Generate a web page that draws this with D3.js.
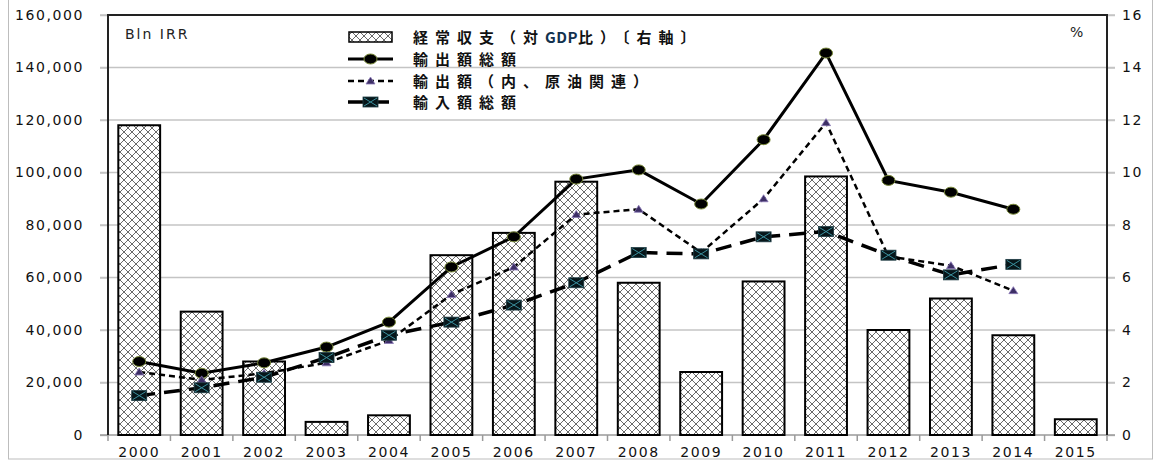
<!DOCTYPE html>
<html lang="ja">

<head>
  <meta charset="UTF-8">
  <title>Chart</title>
  <script src="https://cdn.jsdelivr.net/npm/d3@7.6.1/dist/d3.min.js"></script>
  <style>
    body { margin: 0; background: #fff; }
    svg { display: block; }
  </style>
</head>

<body>
  <div id="chart"></div>
  <script>
    const width = 1155
    const height = 461

    // data
    const years = ['2000', '2001', '2002', '2003', '2004', '2005', '2006', '2007', '2008', '2009', '2010', '2011', '2012', '2013', '2014', '2015']
    // 経常収支(対GDP比) %, right axis
    const currentAccount = [11.8, 4.7, 2.8, 0.5, 0.75, 6.85, 7.7, 9.65, 5.8, 2.4, 5.85, 9.85, 4.0, 5.2, 3.8, 0.6]
    // Bln IRR, left axis (2000-2014)
    const exportsTotal = [28000, 23500, 27500, 33500, 43000, 64000, 75500, 97500, 101000, 88000, 112500, 145500, 97000, 92500, 86000]
    const exportsOil = [24000, 21000, 23500, 27500, 36000, 53500, 64000, 84000, 86000, 69500, 90000, 119000, 68000, 64500, 55000]
    const importsTotal = [15000, 18000, 22000, 29500, 38000, 43000, 49500, 58000, 69500, 69000, 75500, 77500, 68500, 61000, 65000]
    const leftTicks = [0, 20000, 40000, 60000, 80000, 100000, 120000, 140000, 160000]
    const rightTicks = [0, 2, 4, 6, 8, 10, 12, 14, 16]
    // legend text, split so the latin part can be set tighter
    const legendLabels = [
      ['経常収支（対', 'GDP', '比）〔右軸〕'],
      ['輸出額総額'],
      ['輸出額（内、原油関連）'],
      ['輸入額総額']
    ]

    const plot = { left: 108, right: 1107, top: 15, bottom: 435 }
    const numFont = 'DejaVu Sans, Verdana, sans-serif'
    const jpFont = '"Noto Sans CJK JP", "Noto Sans CJK SC", sans-serif'

    const x = d3.scaleBand().domain(years).range([plot.left, plot.right]).paddingInner(0.33).paddingOuter(0.165)
    const yL = d3.scaleLinear().domain([0, 160000]).range([plot.bottom, plot.top])
    const yR = d3.scaleLinear().domain([0, 16]).range([plot.bottom, plot.top])
    const cx = d => x(d) + x.bandwidth() / 2

    const svg = d3.select('#chart').append('svg')
      .attr('width', width)
      .attr('height', height)

    // hatch pattern for bars
    const defs = svg.append('defs')
    const pat = defs.append('pattern')
      .attr('id', 'hatch')
      .attr('patternUnits', 'userSpaceOnUse')
      .attr('width', 8).attr('height', 8)
    pat.append('rect').attr('width', 8).attr('height', 8).attr('fill', '#fff')
    pat.append('path').attr('d', 'M0,0L8,8M8,0L0,8M-1,7L1,9M7,-1L9,1')
      .attr('stroke', '#6a6a6a').attr('stroke-width', 1)

    // outer frame
    svg.append('rect')
      .attr('x', 8.5).attr('y', -2).attr('width', 1144).attr('height', 461)
      .attr('fill', 'none').attr('stroke', '#bdbdbd')

    // gridlines (with ticks outside on both sides)
    svg.append('g').selectAll('line').data(leftTicks.slice(1)).enter().append('line')
      .attr('x1', plot.left - 8).attr('x2', plot.right + 8)
      .attr('y1', d => yL(d)).attr('y2', d => yL(d))
      .attr('stroke', '#c4c4c4').attr('stroke-width', 1.5)

    // left axis
    const gL = svg.append('g').attr('transform', `translate(${plot.left},0)`)
      .call(d3.axisLeft(yL).tickValues(leftTicks).tickFormat(d3.format(',')).tickSize(8).tickPadding(16))
    gL.select('.domain').remove()
    gL.selectAll('line').attr('stroke', '#c4c4c4').attr('stroke-width', 1.5)
    gL.selectAll('text').attr('font-family', numFont).attr('font-size', 14)
      .attr('letter-spacing', '1.6px').attr('fill', '#111')

    // right axis
    const gR = svg.append('g').attr('transform', `translate(${plot.right},0)`)
      .call(d3.axisRight(yR).tickValues(rightTicks).tickSize(8).tickPadding(7))
    gR.select('.domain').remove()
    gR.selectAll('line').attr('stroke', '#c4c4c4').attr('stroke-width', 1.5)
    gR.selectAll('text').attr('font-family', numFont).attr('font-size', 14)
      .attr('letter-spacing', '1.6px').attr('fill', '#111')

    // bottom axis
    const step = x.step()
    const bounds = d3.range(years.length + 1).map(i => plot.left + i * step)
    svg.append('line')
      .attr('x1', plot.left - 8).attr('x2', plot.right + 8)
      .attr('y1', plot.bottom).attr('y2', plot.bottom)
      .attr('stroke', '#9a9a9a').attr('stroke-width', 1.5)
    svg.append('g').selectAll('line').data(bounds).enter().append('line')
      .attr('x1', d => d).attr('x2', d => d)
      .attr('y1', plot.bottom).attr('y2', plot.bottom + 6)
      .attr('stroke', '#9a9a9a').attr('stroke-width', 1.5)
    const gX = svg.append('g').attr('transform', `translate(0,${plot.bottom})`)
      .call(d3.axisBottom(x).tickSize(0).tickPadding(12))
    gX.select('.domain').remove()
    gX.selectAll('text').attr('font-family', numFont).attr('font-size', 14)
      .attr('letter-spacing', '1.6px').attr('fill', '#111')

    // bars
    svg.append('g').selectAll('rect').data(currentAccount).enter().append('rect')
      .attr('x', (d, i) => x(years[i]))
      .attr('y', d => yR(d))
      .attr('width', x.bandwidth())
      .attr('height', d => plot.bottom - yR(d))
      .attr('fill', 'url(#hatch)')
      .attr('stroke', '#000').attr('stroke-width', 2)

    // plot frame
    svg.append('path')
      .attr('d', `M${plot.left},${plot.bottom}V${plot.top}H${plot.right}V${plot.bottom}`)
      .attr('fill', 'none').attr('stroke', '#222').attr('stroke-width', 2)

    const line = d3.line().x((d, i) => cx(years[i])).y(d => yL(d))

    // 輸出額総額
    svg.append('path').datum(exportsTotal).attr('d', line)
      .attr('fill', 'none').attr('stroke', '#000').attr('stroke-width', 3)
    // 輸出額(内、原油関連)
    svg.append('path').datum(exportsOil).attr('d', line)
      .attr('fill', 'none').attr('stroke', '#000').attr('stroke-width', 2.5)
      .attr('stroke-dasharray', '6,4')
    // 輸入額総額
    svg.append('path').datum(importsTotal).attr('d', line)
      .attr('fill', 'none').attr('stroke', '#000').attr('stroke-width', 3.5)
      .attr('stroke-dasharray', '16,9')

    // markers
    function circleMark(g, px, py) {
      g.append('ellipse').attr('cx', px).attr('cy', py).attr('rx', 6.5).attr('ry', 5)
        .attr('fill', '#000').attr('stroke', '#7a8a3a').attr('stroke-width', 1)
    }
    function triMark(g, px, py) {
      g.append('path').attr('d', `M${px},${py - 4}L${px + 4.5},${py + 3}L${px - 4.5},${py + 3}Z`)
        .attr('fill', '#3d2f66').attr('stroke', '#8c7ab8').attr('stroke-width', 0.8)
    }
    function sqMark(g, px, py) {
      g.append('rect').attr('x', px - 7.5).attr('y', py - 5).attr('width', 15).attr('height', 10)
        .attr('fill', '#07161a').attr('stroke', '#1d3c44').attr('stroke-width', 0.8)
      g.append('path').attr('d', `M${px - 6.5},${py - 4}L${px + 6.5},${py + 4}M${px + 6.5},${py - 4}L${px - 6.5},${py + 4}`)
        .attr('stroke', '#3a8e9c').attr('stroke-width', 1)
    }

    const gM = svg.append('g')
    exportsTotal.forEach((d, i) => circleMark(gM, cx(years[i]), yL(d)))
    exportsOil.forEach((d, i) => triMark(gM, cx(years[i]), yL(d)))
    importsTotal.forEach((d, i) => sqMark(gM, cx(years[i]), yL(d)))

    // unit labels
    svg.append('text').attr('x', 125).attr('y', 39).text('Bln IRR')
      .attr('font-family', numFont).attr('font-size', 14).attr('letter-spacing', '2px').attr('fill', '#222')
    svg.append('text').attr('x', 1070).attr('y', 37).text('%')
      .attr('font-family', numFont).attr('font-size', 14).attr('fill', '#222')

    // legend
    const lg = svg.append('g')
    const rows = [37, 59, 81, 102]
    const sx0 = 348, sx1 = 393, smid = (sx0 + sx1) / 2
    lg.append('rect').attr('x', sx0 + 1).attr('y', rows[0] - 5).attr('width', sx1 - sx0 - 2).attr('height', 10)
      .attr('fill', 'url(#hatch)').attr('stroke', '#000').attr('stroke-width', 1.5)
    lg.append('line').attr('x1', sx0).attr('x2', sx1).attr('y1', rows[1]).attr('y2', rows[1])
      .attr('stroke', '#000').attr('stroke-width', 3)
    circleMark(lg, smid, rows[1])
    lg.append('line').attr('x1', sx0).attr('x2', sx1).attr('y1', rows[2]).attr('y2', rows[2])
      .attr('stroke', '#000').attr('stroke-width', 2.5).attr('stroke-dasharray', '6,4')
    triMark(lg, smid, rows[2])
    lg.append('line').attr('x1', sx0).attr('x2', sx1).attr('y1', rows[3]).attr('y2', rows[3])
      .attr('stroke', '#000').attr('stroke-width', 3.5).attr('stroke-dasharray', '16,9')
    sqMark(lg, smid, rows[3])

    const lt = lg.selectAll('text').data(legendLabels).enter().append('text')
      .attr('x', 413).attr('y', (d, i) => rows[i] + 6)
      .attr('font-family', jpFont).attr('font-size', 15).attr('font-weight', 'bold')
      .attr('fill', '#111')
    lt.selectAll('tspan').data(d => d).enter().append('tspan')
      .attr('letter-spacing', d => d === 'GDP' ? '0.5px' : '7px')
      .attr('fill', d => d === 'GDP' ? '#14324f' : '#111')
      .text(d => d)
  </script>
</body>

</html>
